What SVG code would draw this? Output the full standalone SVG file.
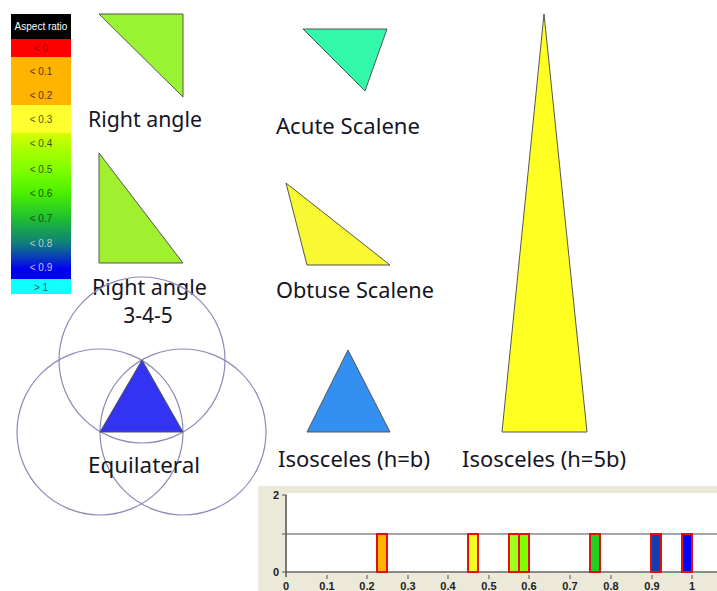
<svg xmlns="http://www.w3.org/2000/svg" width="717" height="591" viewBox="0 0 717 591">
<defs>
<style>
.lbl{font-family:"Noto Sans","Open Sans",sans-serif;font-size:21px;fill:#15151f}
.leg{font-family:"Liberation Sans",Arial,sans-serif;font-size:10px;text-anchor:middle}
.tri{stroke:#555;stroke-width:1}
.circ{fill:none;stroke:#8a8ab8;stroke-width:1.2}
.bar{stroke:#e01010;stroke-width:2}
.ax{font-family:"Liberation Sans",Arial,sans-serif;font-size:11px;font-weight:bold;fill:#222}
</style>
<linearGradient id="lg" x1="0" y1="133" x2="0" y2="279" gradientUnits="userSpaceOnUse">
<stop offset="0" stop-color="#d4ff00"/>
<stop offset="0.12" stop-color="#a8ff00"/>
<stop offset="0.25" stop-color="#80ff00"/>
<stop offset="0.42" stop-color="#48ee00"/>
<stop offset="0.58" stop-color="#20c030"/>
<stop offset="0.75" stop-color="#108078"/>
<stop offset="0.86" stop-color="#0838c0"/>
<stop offset="0.93" stop-color="#0000f0"/>
<stop offset="1" stop-color="#0000f0"/>
</linearGradient>
</defs>
<rect width="717" height="591" fill="#fff"/>
<g id="legend">
<rect x="11" y="14" width="60" height="25" fill="#000"/>
<rect x="11" y="39" width="60" height="18" fill="#ff0000"/>
<rect x="11" y="57" width="60" height="48" fill="#ffb400"/>
<rect x="11" y="105" width="60" height="28" fill="#ffff30"/>
<rect x="11" y="133" width="60" height="146" fill="url(#lg)"/>
<rect x="11" y="279" width="60" height="15" fill="#10ffff"/>
<text class="leg" x="41" y="30" fill="#fff" font-size="9">Aspect ratio</text>
<text class="leg" x="41" y="52" fill="#900">&lt; 0</text>
<text class="leg" x="41" y="75" fill="#553300">&lt; 0.1</text>
<text class="leg" x="41" y="99" fill="#553300">&lt; 0.2</text>
<text class="leg" x="41" y="123" fill="#555500">&lt; 0.3</text>
<text class="leg" x="41" y="147" fill="#445500">&lt; 0.4</text>
<text class="leg" x="41" y="173" fill="#335500">&lt; 0.5</text>
<text class="leg" x="41" y="197" fill="#225500">&lt; 0.6</text>
<text class="leg" x="41" y="222" fill="#105010">&lt; 0.7</text>
<text class="leg" x="41" y="247" fill="#b8c8c8">&lt; 0.8</text>
<text class="leg" x="41" y="271" fill="#c0c0ff">&lt; 0.9</text>
<text class="leg" x="41" y="291" fill="#206060">&gt; 1</text>
</g>
<g id="right-angle">
<polygon class="tri" points="99,14 183,14 183,97" fill="#99f433"/>
<text class="lbl" x="88" y="127" textLength="114" lengthAdjust="spacingAndGlyphs">Right angle</text>
</g>
<g id="acute-scalene">
<polygon class="tri" points="303,29 387,29 365,91" fill="#33f8aa"/>
<text class="lbl" x="276" y="134" textLength="144" lengthAdjust="spacingAndGlyphs">Acute Scalene</text>
</g>
<g id="right-angle-345">
<polygon class="tri" points="99,153 99,263 183,263" fill="#a0f030"/>
<text class="lbl" x="92" y="295" textLength="115" lengthAdjust="spacingAndGlyphs">Right angle</text>
<text class="lbl" x="148" y="323" text-anchor="middle">3-4-5</text>
</g>
<g id="obtuse-scalene">
<polygon class="tri" points="286,183 307,265 390,265" fill="#f8f833"/>
<text class="lbl" x="276" y="298" textLength="158" lengthAdjust="spacingAndGlyphs">Obtuse Scalene</text>
</g>
<g id="equilateral">
<circle class="circ" cx="142" cy="360" r="83"/>
<circle class="circ" cx="100" cy="432" r="83"/>
<circle class="circ" cx="183" cy="432" r="83"/>
<polygon class="tri" points="142,360 100,432 183,432" fill="#3333f4"/>
<text class="lbl" x="88" y="473" textLength="112" lengthAdjust="spacingAndGlyphs">Equilateral</text>
</g>
<g id="isosceles-hb">
<polygon class="tri" points="348,350 307,432 390,432" fill="#3390f0"/>
<text class="lbl" x="278" y="467" textLength="152" lengthAdjust="spacingAndGlyphs">Isosceles (h=b)</text>
</g>
<g id="isosceles-h5b">
<polygon class="tri" points="544,14 502,432 587,432" fill="#ffff22"/>
<text class="lbl" x="462" y="467" textLength="164" lengthAdjust="spacingAndGlyphs">Isosceles (h=5b)</text>
</g>
<g id="histogram">
<rect x="258" y="486" width="459" height="105" fill="#ece9d8"/>
<rect x="287" y="493" width="430" height="79" fill="#fff"/>
<line x1="286" y1="534" x2="717" y2="534" stroke="#8a8a8a" stroke-width="1.5"/>
<line x1="286" y1="572" x2="717" y2="572" stroke="#666" stroke-width="1.5"/>
<line x1="286" y1="495" x2="286" y2="577" stroke="#555" stroke-width="1.5"/>
<line x1="282" y1="495" x2="286" y2="495" stroke="#555"/>
<line x1="282" y1="534" x2="286" y2="534" stroke="#555"/>
<line x1="282" y1="572" x2="286" y2="572" stroke="#555"/>
<text class="ax" x="279" y="499" text-anchor="end" font-size="12">2</text>
<text class="ax" x="279" y="576" text-anchor="end" font-size="12">0</text>
<g stroke="#555">
<line x1="327" y1="575" x2="327" y2="579"/><line x1="367" y1="575" x2="367" y2="579"/>
<line x1="408" y1="575" x2="408" y2="579"/><line x1="448" y1="575" x2="448" y2="579"/>
<line x1="489" y1="575" x2="489" y2="579"/><line x1="529" y1="575" x2="529" y2="579"/>
<line x1="570" y1="575" x2="570" y2="579"/><line x1="611" y1="575" x2="611" y2="579"/>
<line x1="652" y1="575" x2="652" y2="579"/><line x1="692" y1="575" x2="692" y2="579"/>
</g>
<g class="ax" text-anchor="middle">
<text x="286" y="590">0</text><text x="327" y="590">0.1</text><text x="367" y="590">0.2</text>
<text x="408" y="590">0.3</text><text x="448" y="590">0.4</text><text x="489" y="590">0.5</text>
<text x="529" y="590">0.6</text><text x="570" y="590">0.7</text><text x="611" y="590">0.8</text>
<text x="652" y="590">0.9</text><text x="692" y="590">1</text>
</g>
<rect class="bar" x="377" y="534" width="10" height="38" fill="#ffb400"/>
<rect class="bar" x="468" y="534" width="10" height="38" fill="#f0ff20"/>
<rect class="bar" x="509" y="534" width="10" height="38" fill="#a0ff20"/>
<rect class="bar" x="519" y="534" width="10" height="38" fill="#80ff00"/>
<rect class="bar" x="590" y="534" width="10" height="38" fill="#20d020"/>
<rect class="bar" x="651" y="534" width="10" height="38" fill="#1040b0"/>
<rect class="bar" x="682" y="534" width="10" height="38" fill="#0000ff"/>
</g>
</svg>
